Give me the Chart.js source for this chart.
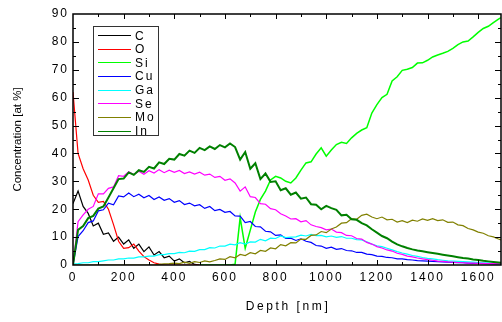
<!DOCTYPE html>
<html>
<head>
<meta charset="utf-8">
<script src="https://cdn.jsdelivr.net/npm/chart.js@4/dist/chart.umd.min.js"></script>
<style>
html, body { margin: 0; padding: 0; background: #fff; }
#wrap { width: 502px; height: 322px; position: relative; }
#leyenda {
    position: absolute; left: 93px; top: 26px; width: 64px; height: 108px;
    border: 1.5px solid #333; background: #fff;
}
.leyenda__fila {
    position: absolute; left: 4px; height: 14px; line-height: 14px;
    font: 12px 'Liberation Sans', Arial, sans-serif; letter-spacing: 2px; color: #000;
    white-space: nowrap;
}
.leyenda__linea {
    position: absolute; left: 0; top: 7px; width: 33px; height: 0;
}
.leyenda__texto { position: absolute; left: 37px; top: 0.5px; }
</style>
</head>
<body>
<div id="wrap"><canvas id="chart"></canvas><div id="leyenda"></div></div>
<script>
'use strict';

// depth [nm]
const DEPTH = [
    0, 20, 40, 60, 80, 100, 120, 140, 160, 180,
    200, 220, 240, 260, 280, 300, 320, 340, 360, 380,
    400, 420, 440, 460, 480, 500, 520, 540, 560, 580,
    600, 620, 640, 660, 680, 700, 720, 740, 760, 780,
    800, 820, 840, 860, 880, 900, 920, 940, 960, 980,
    1000, 1020, 1040, 1060, 1080, 1100, 1120, 1140, 1160, 1180,
    1200, 1220, 1240, 1260, 1280, 1300, 1320, 1340, 1360, 1380,
    1400, 1420, 1440, 1460, 1480, 1500, 1520, 1540, 1560, 1580,
    1600, 1620, 1640, 1660, 1680, 1690,
];

const C_AT = [
    22, 26.5, 21, 18.5, 14, 15, 11, 11.5, 8.5, 10,
    7.5, 9, 6, 7.5, 4.8, 6.5, 3.6, 4.8, 2.6, 3.2,
    1.4, 2.2, 0.8, 1.3, 0.2, 0,
];

const O_AT = [
    62, 40, 34.5, 30.5, 25, 22.5, 22.8, 20, 14.5, 8.5,
    6, 6.2, 7.5, 5, 3, 1.8, 0.8, 0.3, 0, 0,
    0, 0, 0, 0, 0, 0,
];

const SI_AT = [
    null, null, null, null, null, null, null, null, null, null,
    null, null, null, null, null, null, null, null, null, null,
    null, null, null, null, null, 0, 0, 0, 0, 0,
    0, 0, 0.3, 17, 6, 12.5, 19, 23.5, 26.5, 30.5,
    31.8, 31.2, 30, 29.4, 31.2, 34, 36.6, 37, 39.8, 42,
    39, 41.2, 43.2, 44, 43.6, 45.6, 47.2, 48.4, 49.2, 54.5,
    57.5, 60, 61.2, 66, 67.5, 69.8, 70.2, 70.8, 72.4, 72.5,
    73.4, 74.6, 75.3, 75.9, 76.6, 77.7, 79, 80, 80.3, 81.8,
    83.4, 84.8, 85.6, 86.9, 88.2, 88.7,
];

const CU_AT = [
    0, 10.2, 12.3, 15.2, 15.8, 19.4, 19.8, 22.2, 21.6, 24.8,
    24.4, 25.8, 24.5, 25.4, 24.1, 24.9, 23.5, 24.4, 23.2, 23.8,
    22.5, 23.1, 21.7, 22.2, 21.2, 21.6, 20.3, 21, 19.5, 19.9,
    18.9, 19.2, 17.6, 17.5, 15.2, 15.6, 13.8, 13.7, 12.1, 11.9,
    10.6, 10.8, 9.5, 9.6, 8.8, 9.4, 8.5, 8.1, 7, 6.8,
    6, 6.4, 5.6, 5.9, 5.2, 5.1, 4.5, 4.5, 3.9, 3.7,
    3.2, 3.1, 2.7, 2.6, 2.2, 2.2, 1.9, 1.8, 1.6, 1.5,
    1.4, 1.3, 1.2, 1.1, 1, 0.9, 0.8, 0.8, 0.7, 0.6,
    0.6, 0.5, 0.5, 0.4, 0.4, 0.4,
];

const GA_AT = [
    0.3, 0.5, 0.8, 0.8, 1.2, 1.2, 1.5, 1.8, 1.8, 2.2,
    2.2, 2.5, 2.5, 2.9, 2.9, 3.2, 3.2, 3.7, 3.7, 4.1,
    4.1, 4.5, 4.4, 5, 4.9, 5.5, 5.5, 6.2, 6.1, 6.8,
    6.8, 7.5, 7.2, 8, 7.5, 8.3, 8.2, 9.2, 8.7, 9.6,
    9.5, 10.4, 9.8, 10, 10.1, 10.7, 10.4, 11, 10.5, 10.6,
    10.1, 10.4, 9.9, 10.2, 9.6, 9.6, 9.1, 9, 8.3, 7.5,
    6.9, 6.6, 6, 5.4, 4.8, 4.3, 3.9, 3.4, 3.1, 2.7,
    2.4, 2.2, 1.9, 1.7, 1.5, 1.4, 1.3, 1.2, 1.1, 1,
    0.9, 0.8, 0.8, 0.7, 0.6, 0.6,
];

const SE_AT = [
    0, 15.5, 18, 20, 21, 25.5, 25.5, 27.5, 28, 32,
    31.8, 33.4, 32.4, 33.6, 32.5, 33.8, 33, 34.2, 33.1, 34,
    33.2, 33.9, 32.8, 33.4, 32.6, 33.3, 32.2, 32.6, 31.4, 31.8,
    30.4, 30.9, 29.4, 26.5, 28, 24.5, 24.2, 22, 21.8, 20.2,
    19.8, 18.4, 17.6, 16.5, 16.6, 15.5, 15.9, 14.4, 13.8, 13.4,
    12.6, 12.9, 11.8, 11.6, 10.6, 10.5, 9.5, 9.3, 8.1, 7.5,
    6.6, 6.1, 5.4, 5, 4.2, 3.8, 3.2, 2.9, 2.5, 2.2,
    1.9, 1.7, 1.4, 1.3, 1.1, 1, 0.9, 0.8, 0.7, 0.7,
    0.6, 0.6, 0.5, 0.5, 0.5, 0.5,
];

const MO_AT = [
    0, 0, 0, 0, 0, 0, 0, 0, 0, 0,
    0, 0, 0, 0, 0, 0, 0, 0.2, 0.4, 0.5,
    0.7, 0.5, 1, 0.6, 1.2, 0.9, 1.5, 1.1, 1.6, 2.2,
    2, 3, 2.6, 3.8, 3.4, 4.4, 4, 5.2, 4.9, 6.1,
    5.8, 7.3, 6.9, 8, 7.9, 9.3, 9.2, 10.6, 10.8, 12,
    11.6, 12.9, 13.6, 15, 15.2, 16.6, 16.4, 17.8, 18.2, 17.2,
    16.6, 17.2, 16.2, 16.4, 15.4, 15.9, 15.2, 16.1, 15.7, 16.5,
    16, 16.6, 15.9, 16.2, 15.3, 15.4, 14.4, 14.1, 13.1, 12.6,
    11.8, 11.4, 10.5, 10.1, 9.3, 9,
];

const IN_AT = [
    0, 12.6, 14, 16.8, 17.6, 20.2, 21, 24.2, 27.5, 30.8,
    31, 33.2, 32.3, 34, 33.4, 35.2, 34.6, 36.8, 36.2, 38.1,
    37.8, 39.8, 39.2, 41, 40.2, 42, 41.2, 42.5, 41.6, 43,
    42.2, 43.6, 42.3, 37.8, 40.5, 34.5, 36.5, 30.8, 32.8, 29.8,
    30, 26.8, 27.5, 25.2, 26, 23.8, 24.2, 21.8, 21.6, 20,
    21.2, 20.4, 19.8, 17.8, 18, 16.4, 16.2, 15, 14.2, 12.8,
    11.6, 10.4, 9.6, 8.4, 7.4, 6.7, 6.1, 5.6, 5.2, 4.9,
    4.6, 4.3, 4, 3.7, 3.4, 3.1, 2.8, 2.5, 2.3, 2,
    1.8, 1.5, 1.3, 1.1, 0.9, 0.8,
];

const SERIES = [C_AT, O_AT, SI_AT, CU_AT, GA_AT, SE_AT, MO_AT, IN_AT];
const LABELS = ['C', 'O', 'Si', 'Cu', 'Ga', 'Se', 'Mo', 'In'];
const COLORS = ['#000000', '#ff0000', '#00ff00', '#0000ff', '#00ffff', '#ff00ff', '#808000', '#008000'];
const WIDTHS = [1.2, 1.2, 1.5, 1.2, 1.2, 1.2, 1.2, 2];

const X_TICKS = [0, 200, 400, 600, 800, 1000, 1200, 1400, 1600];
const Y_TICKS = [0, 10, 20, 30, 40, 50, 60, 70, 80, 90];

const FUENTE = "'Liberation Sans', Arial, sans-serif";

const marco = {
    id: 'marco',
    beforeDraw(chart) {
        chart.ctx.letterSpacing = '2px';
    },
    afterDatasetsDraw(chart) {
        const { ctx, chartArea: a, scales: { x, y } } = chart;
        ctx.save();
        ctx.strokeStyle = '#000';
        ctx.lineWidth = 1.5;
        ctx.strokeRect(a.left, a.top, a.right - a.left, a.bottom - a.top);

        // ticks hacia dentro en los cuatro lados
        ctx.lineWidth = 1;
        ctx.beginPath();
        for (let v = 100; v < x.max; v += 100) {
            const px = Math.round(x.getPixelForValue(v)) + 0.5;
            const len = v % 200 === 0 ? 5 : 3;
            ctx.moveTo(px, a.bottom); ctx.lineTo(px, a.bottom - len);
            ctx.moveTo(px, a.top); ctx.lineTo(px, a.top + len);
        }
        for (let v = 5; v < y.max; v += 5) {
            const py = Math.round(y.getPixelForValue(v)) + 0.5;
            const len = v % 10 === 0 ? 6 : 3;
            ctx.moveTo(a.left, py); ctx.lineTo(a.left + len, py);
            ctx.moveTo(a.right, py); ctx.lineTo(a.right - len, py);
        }
        ctx.stroke();
        ctx.restore();
    },
    afterDraw(chart) {
        const { ctx, chartArea: a } = chart;
        ctx.save();
        ctx.fillStyle = '#000';
        ctx.font = `11.5px ${FUENTE}`;
        ctx.letterSpacing = '0px';
        ctx.textAlign = 'center';
        ctx.textBaseline = 'middle';
        ctx.translate(18, (a.top + a.bottom) / 2);
        ctx.rotate(-Math.PI / 2);
        ctx.fillText('Concentration [at %]', 0, 0);
        ctx.restore();

        ctx.save();
        ctx.fillStyle = '#000';
        ctx.font = `12px ${FUENTE}`;
        ctx.letterSpacing = '2.6px';
        ctx.textAlign = 'center';
        ctx.textBaseline = 'middle';
        ctx.fillText('Depth [nm]', (a.left + a.right) / 2 + 1, 307);
        ctx.restore();
    },
};

const ejeBase = {
    type: 'linear',
    grid: { display: false, drawTicks: false },
    border: { display: false },
    ticks: {
        color: '#000',
        font: { family: FUENTE, size: 12 },
        autoSkip: false,
        maxRotation: 0,
        callback: (v) => String(v),
    },
};

const chart = new Chart(document.getElementById('chart'), {
    type: 'line',
    data: {
        datasets: SERIES.map((vals, i) => ({
            label: LABELS[i],
            data: vals.map((v, j) => ({ x: DEPTH[j], y: v })),
            borderColor: COLORS[i],
            borderWidth: WIDTHS[i],
            pointRadius: 0,
            fill: false,
            tension: 0,
            order: SERIES.length - i,
        })),
    },
    options: {
        responsive: true,
        maintainAspectRatio: false,
        animation: false,
        devicePixelRatio: 1,
        layout: { padding: { top: 14, right: 1, left: 0, bottom: 0 } },
        plugins: { legend: { display: false }, tooltip: { enabled: false } },
        scales: {
            x: {
                ...ejeBase,
                min: 0,
                max: 1690,
                afterBuildTicks: (s) => { s.ticks = X_TICKS.map((v) => ({ value: v })); },
                afterFit: (s) => { s.height = 57; },
                ticks: { ...ejeBase.ticks, padding: 5 },
            },
            y: {
                ...ejeBase,
                min: 0,
                max: 90,
                afterBuildTicks: (s) => { s.ticks = Y_TICKS.map((v) => ({ value: v })); },
                afterFit: (s) => { s.width = 73; },
                ticks: { ...ejeBase.ticks, padding: 4 },
            },
        },
    },
    plugins: [marco],
});

// leyenda en HTML, dentro del area del grafico
const leyendaEl = document.getElementById('leyenda');
leyendaEl.innerHTML = chart.data.datasets.map((ds, i) => `
    <div class="leyenda__fila" style="top:${1 + i * 13.65}px">
        <span class="leyenda__linea" style="border-top:1.5px solid ${ds.borderColor}"></span>
        <span class="leyenda__texto">${ds.label}</span>
    </div>`).join('');
</script>
</body>
</html>
